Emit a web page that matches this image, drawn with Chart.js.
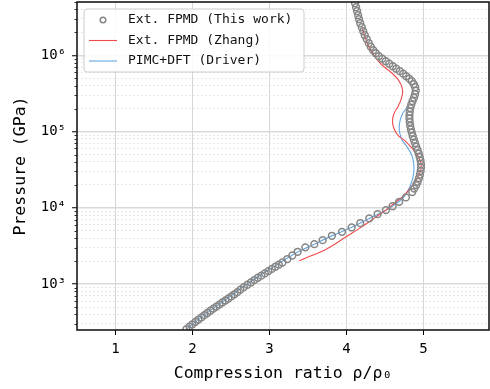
<!DOCTYPE html>
<html><head><meta charset="utf-8">
<script src="https://cdn.jsdelivr.net/npm/chart.js@4"></script>
<style>html,body{margin:0;padding:0;background:#fff;} canvas{display:block;}</style>
</head><body>
<canvas id="c" width="490" height="389"></canvas>
<script>
// ---- data ----
const ratioThisWork = [1.921,1.960,1.999,2.038,2.077,2.116,2.154,2.193,2.232,2.271,2.310,2.349,2.388,2.427,2.466,2.505,2.544,2.583,2.622,2.667,2.712,2.758,2.803,2.848,2.894,2.939,2.985,3.030,3.076,3.121,3.167,3.231,3.296,3.365,3.465,3.582,3.690,3.810,3.941,4.066,4.178,4.295,4.403,4.512,4.598,4.684,4.771,4.853,4.879,4.905,4.924,4.940,4.953,4.962,4.967,4.967,4.961,4.950,4.937,4.922,4.905,4.890,4.874,4.860,4.847,4.836,4.827,4.821,4.817,4.817,4.821,4.827,4.840,4.857,4.875,4.890,4.899,4.892,4.873,4.847,4.814,4.775,4.736,4.691,4.645,4.600,4.555,4.509,4.464,4.419,4.380,4.347,4.315,4.289,4.263,4.237,4.217,4.198,4.178,4.163,4.150,4.137,4.124,4.111];
const pressureThisWork = [257,277,297,320,343,366,391,418,447,476,507,538,574,610,647,690,735,783,847,911,980,1050,1130,1210,1290,1380,1480,1580,1690,1800,1920,2130,2370,2650,3030,3340,3770,4300,4840,5530,6300,7260,8260,9330,10500,12000,13700,16100,17900,19900,22000,24500,27200,30300,33700,37400,41600,46200,51300,57000,63400,70500,78300,87100,96800,107000,119000,133000,148000,164000,182000,203000,225000,250000,278000,309000,344000,382000,418000,458000,494000,532000,574000,619000,667000,719000,776000,837000,902000,973000,1064000,1166000,1297000,1442000,1627000,1834000,2068000,2334000,2634000,2973000,3356000,3787000,4268000,4817000];

const ratioZhang = [3.386,3.539,3.690,3.841,3.993,4.143,4.295,4.382,4.503,4.620,4.736,4.827,4.905,4.957,4.970,4.944,4.892,4.827,4.749,4.678,4.632,4.600,4.600,4.626,4.671,4.710,4.730,4.710,4.665,4.593,4.464,4.373,4.308,4.256,4.204];
const pressureZhang = [2020,2350,2710,3310,4170,5180,6560,7620,9190,11500,14200,18100,23100,29400,36300,44800,53700,64400,77100,87100,101000,125000,150000,180000,215000,266000,339000,406000,486000,582000,741000,944000,1202000,1578000,2265000];

const ratioDriver = [1.921,2.090,2.284,2.479,2.635,2.803,2.998,3.192,3.361,3.582,3.815,4.062,4.295,4.512,4.684,4.749,4.808,4.853,4.873,4.873,4.847,4.788,4.723,4.691,4.684,4.697,4.730,4.769,4.808];
const pressureDriver = [257,353,492,676,887,1160,1550,2070,2620,3340,4320,5530,7260,9330,12200,14000,17600,23100,29400,37400,49100,62500,77100,95300,114000,141000,174000,197000,218000];

const seriesLabels = ['Ext. FPMD (This work)', 'Ext. FPMD (Zhang)', 'PIMC+DFT (Driver)'];
const xTickValues = [1, 2, 3, 4, 5];
const yMajorTickValues = [1e3, 1e4, 1e5, 1e6];
const yMajorTickLabels = ['10³', '10⁴', '10⁵', '10⁶'];
const xTitle = 'Compression ratio ρ/ρ₀';
const yTitle = 'Pressure (GPa)';
const xMin = 0.5, xMax = 5.85, yMin = 250, yMax = 5e6;

// ---- chart ----
const FONT = '"DejaVu Sans Mono", monospace';
const toXY = (xs, ys) => xs.map((x, i) => ({x: x, y: ys[i]}));
function isMajorVal(v){ const l = Math.log10(v); return Math.abs(l - Math.round(l)) < 1e-9; }

const yTickValues = [];
for (let e = 2; e <= 6; e++) for (let m = 1; m <= 9; m++) {
  const v = m * Math.pow(10, e);
  if (v >= yMin && v <= yMax) yTickValues.push(v);
}

const COL_CIRCLE = '#858585';
const COL_RED = 'rgba(238,55,55,0.9)';
const COL_BLUE = 'rgba(70,150,220,0.85)';

const decorPlugin = {
  id: 'decor',
  afterDraw(chart) {
    const {ctx, chartArea: a, scales: {y}} = chart;
    ctx.save();
    ctx.strokeStyle = '#000'; ctx.lineWidth = 0.8;
    y.ticks.forEach(t => {
      if (!isMajorVal(t.value)) {
        const py = Math.round(y.getPixelForValue(t.value)) + 0.5;
        ctx.beginPath(); ctx.moveTo(a.left - 2.5, py); ctx.lineTo(a.left, py); ctx.stroke();
      }
    });
    ctx.lineWidth = 1.6; ctx.strokeStyle = '#1a1a1a';
    ctx.strokeRect(a.left, a.top, a.right - a.left, a.bottom - a.top);
    const bx = a.left + 7, by = a.top + 7, bw = 220, bh = 63, r = 3;
    ctx.beginPath();
    ctx.moveTo(bx + r, by); ctx.lineTo(bx + bw - r, by); ctx.arcTo(bx + bw, by, bx + bw, by + r, r);
    ctx.lineTo(bx + bw, by + bh - r); ctx.arcTo(bx + bw, by + bh, bx + bw - r, by + bh, r);
    ctx.lineTo(bx + r, by + bh); ctx.arcTo(bx, by + bh, bx, by + bh - r, r);
    ctx.lineTo(bx, by + r); ctx.arcTo(bx, by, bx + r, by, r); ctx.closePath();
    ctx.fillStyle = 'rgba(255,255,255,0.85)'; ctx.fill();
    ctx.lineWidth = 1; ctx.strokeStyle = '#cccccc'; ctx.stroke();
    const ds = chart.data.datasets;
    ctx.font = '13px ' + FONT; ctx.textBaseline = 'middle'; ctx.textAlign = 'left';
    ds.forEach((d, i) => {
      const ry = by + 11 + i * 20.5;
      if (i === 0) {
        ctx.beginPath(); ctx.arc(bx + 19, ry, 2.8, 0, Math.PI * 2);
        ctx.lineWidth = 1.5; ctx.strokeStyle = d.borderColor; ctx.stroke();
      } else {
        ctx.beginPath(); ctx.moveTo(bx + 5, ry); ctx.lineTo(bx + 33, ry);
        ctx.lineWidth = 1.1; ctx.strokeStyle = d.borderColor; ctx.stroke();
      }
      ctx.fillStyle = '#111';
      ctx.fillText(d.label, bx + 44, ry);
    });
    ctx.restore();
  }
};

new Chart(document.getElementById('c'), {
  type: 'scatter',
  data: {
    datasets: [
      { label: seriesLabels[0], data: toXY(ratioThisWork, pressureThisWork), showLine: false,
        pointStyle: 'circle', pointRadius: 3.4, pointBorderWidth: 1.5,
        borderColor: COL_CIRCLE, pointBorderColor: COL_CIRCLE, backgroundColor: 'rgba(0,0,0,0)', pointBackgroundColor: 'rgba(0,0,0,0)', order: 0 },
      { label: seriesLabels[1], data: toXY(ratioZhang, pressureZhang), showLine: true, pointRadius: 0,
        borderColor: COL_RED, borderWidth: 1.1, tension: 0.3, order: 1 },
      { label: seriesLabels[2], data: toXY(ratioDriver, pressureDriver), showLine: true, pointRadius: 0,
        borderColor: COL_BLUE, borderWidth: 1.1, tension: 0.3, order: 2 }
    ]
  },
  options: {
    responsive: false, animation: false, devicePixelRatio: 1, events: [],
    layout: { autoPadding: false, padding: { top: 2, right: 1, left: 0, bottom: 0 } },
    plugins: { legend: { display: false }, tooltip: { enabled: false } },
    scales: {
      x: {
        type: 'linear', min: xMin, max: xMax,
        afterBuildTicks: s => { s.ticks = xTickValues.map(v => ({value: v})); },
        afterFit: s => { s.height = 59; s.paddingLeft = 0; s.paddingRight = 0; },
        ticks: { font: { family: FONT, size: 14 }, color: '#000', padding: 6, autoSkip: false, maxRotation: 0 },
        grid: { color: '#d6d6d6', lineWidth: 1, tickColor: '#000', tickLength: 5, tickWidth: 1 },
        border: { display: false },
        title: { display: true, text: xTitle, color: '#000', font: { family: FONT, size: 16.5 }, padding: { top: 0, bottom: 5 } }
      },
      y: {
        type: 'logarithmic', min: yMin, max: yMax,
        afterBuildTicks: s => { s.ticks = yTickValues.map(v => ({value: v, major: isMajorVal(v)})); },
        afterFit: s => { s.width = 77; s.paddingTop = 0; s.paddingBottom = 0; },
        ticks: { font: { family: FONT, size: 14 }, color: '#000', padding: 6, autoSkip: false,
          callback: (v) => { const k = yMajorTickValues.indexOf(v); return k >= 0 ? yMajorTickLabels[k] : ''; } },
        grid: {
          color: c => (c.tick && isMajorVal(c.tick.value)) ? '#d9d9d9' : '#e2e2e2',
          lineWidth: c => (c.tick && isMajorVal(c.tick.value)) ? 1.5 : 0.8,
          tickColor: c => (c.tick && isMajorVal(c.tick.value)) ? '#000' : 'rgba(0,0,0,0)',
          tickLength: 5, tickWidth: 1
        },
        border: { display: false, dash: c => (c.tick && !isMajorVal(c.tick.value)) ? [2, 2] : [] },
        title: { display: true, text: yTitle, color: '#000', font: { family: FONT, size: 16.5 }, padding: { top: 11, bottom: 0 } }
      }
    }
  },
  plugins: [decorPlugin]
});
</script>
</body></html>
